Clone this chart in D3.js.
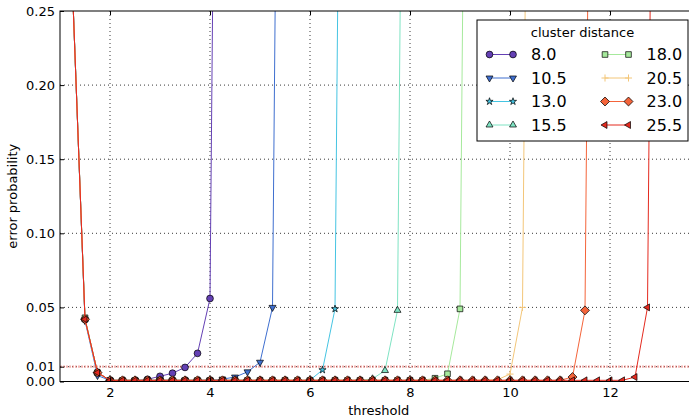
<!DOCTYPE html>
<html>
<head>
<meta charset="utf-8">
<script src="https://cdn.jsdelivr.net/npm/d3@7"></script>
<style>
body { margin: 0; background: #fff; }
svg { display: block; font-family: "DejaVu Sans", sans-serif; }
</style>
</head>
<body>
<svg width="689" height="420"></svg>
<script>
// thresholds on the x axis
var thresholds = [
    1.0, 1.25, 1.5, 1.75,
    2.0, 2.25, 2.5, 2.75,
    3.0, 3.25, 3.5, 3.75,
    4.0, 4.25, 4.5, 4.75,
    5.0, 5.25, 5.5, 5.75,
    6.0, 6.25, 6.5, 6.75,
    7.0, 7.25, 7.5, 7.75,
    8.0, 8.25, 8.5, 8.75,
    9.0, 9.25, 9.5, 9.75,
    10.0, 10.25, 10.5, 10.75,
    11.0, 11.25, 11.5, 11.75,
    12.0, 12.25, 12.5, 12.75,
    13.0
];

var distances = ["8.0", "10.5", "13.0", "15.5", "18.0", "20.5", "23.0", "25.5"];

// error probability per threshold, one list per cluster distance
var series_8_0 = [
    0.62, 0.265, 0.042, 0.006,
    0.0008, 0.0005, 0.0005, 0.0015,
    0.0035, 0.0056, 0.0095, 0.019,
    0.056, 1.0
];
var series_10_5 = [
    0.62, 0.265, 0.041, 0.004,
    0.0008, 0.0008, 0.0008, 0.0008,
    0.0008, 0.0008, 0.0008, 0.0008,
    0.0009, 0.0016, 0.003, 0.0065,
    0.013, 0.050, 1.0
];
var series_13_0 = [
    0.62, 0.265, 0.042, 0.006,
    0.0008, 0.0008, 0.0008, 0.0008,
    0.0008, 0.0008, 0.0008, 0.0008,
    0.0008, 0.0008, 0.0008, 0.0008,
    0.0005, 0.0005, 0.0005, 0.0005,
    0.0009, 0.0078, 0.049, 1.0
];
var series_15_5 = [
    0.62, 0.265, 0.042, 0.006,
    0.0008, 0.0008, 0.0008, 0.0008,
    0.0008, 0.0008, 0.0008, 0.0008,
    0.0008, 0.0008, 0.0008, 0.0008,
    0.0008, 0.0008, 0.0008, 0.0008,
    0.0008, 0.0008, 0.0008, 0.0008,
    0.0008, 0.0018, 0.0074, 0.048,
    1.0
];
var series_18_0 = [
    0.62, 0.265, 0.043, 0.006,
    0.0008, 0.0008, 0.0008, 0.0008,
    0.0008, 0.0008, 0.0008, 0.0008,
    0.0008, 0.0008, 0.0008, 0.0008,
    0.0008, 0.0008, 0.0008, 0.0008,
    0.0008, 0.0008, 0.0008, 0.0008,
    0.0008, 0.0008, 0.0008, 0.0008,
    0.0008, 0.0008, 0.0022, 0.0052,
    0.049, 1.0
];
var series_20_5 = [
    0.62, 0.265, 0.042, 0.006,
    0.0008, 0.0008, 0.0008, 0.0008,
    0.0008, 0.0008, 0.0008, 0.0008,
    0.0008, 0.0008, 0.0008, 0.0008,
    0.0008, 0.0008, 0.0008, 0.0008,
    0.0008, 0.0008, 0.0008, 0.0008,
    0.0008, 0.0008, 0.0008, 0.0008,
    0.0008, 0.0008, 0.0008, 0.0008,
    0.0008, 0.0008, 0.0008, 0.0012,
    0.005, 0.050, 1.0
];
var series_23_0 = [
    0.62, 0.265, 0.042, 0.006,
    0.0008, 0.0008, 0.0008, 0.0008,
    0.0008, 0.0008, 0.0008, 0.0008,
    0.0008, 0.0008, 0.0008, 0.0008,
    0.0008, 0.0008, 0.0008, 0.0008,
    0.0008, 0.0008, 0.0008, 0.0008,
    0.0008, 0.0008, 0.0008, 0.0008,
    0.0008, 0.0008, 0.0008, 0.0008,
    0.0008, 0.0008, 0.0008, 0.0008,
    0.0008, 0.0008, 0.0008, 0.0008,
    0.0008, 0.003, 0.048, 1.0
];
var series_25_5 = [
    0.62, 0.265, 0.042, 0.006,
    0.0008, 0.0008, 0.0008, 0.0008,
    0.0008, 0.0008, 0.0008, 0.0008,
    0.0008, 0.0008, 0.0008, 0.0008,
    0.0008, 0.0008, 0.0008, 0.0008,
    0.0008, 0.0008, 0.0008, 0.0008,
    0.0008, 0.0008, 0.0008, 0.0008,
    0.0008, 0.0008, 0.0008, 0.0008,
    0.0008, 0.0008, 0.0008, 0.0008,
    0.0008, 0.0008, 0.0008, 0.0008,
    0.0008, 0.0008, 0.0008, 0.0008,
    0.0008, 0.0008, 0.003, 0.050,
    1.0
];

var xTicks = [2, 4, 6, 8, 10, 12];
var yTicks = [0.00, 0.01, 0.05, 0.10, 0.15, 0.20, 0.25];
var limit = 0.01;

var allSeries = [series_8_0, series_10_5, series_13_0, series_15_5,
                 series_18_0, series_20_5, series_23_0, series_25_5];

var colors = ["#6440b4", "#3f6fcf", "#45c4e2", "#7fe3c3",
              "#a6e99c", "#f3c679", "#f4643a", "#e42a1f"];

var plusSymbol = {
    draw: function(ctx, size) {
        var r = Math.sqrt(size) / 2;
        ctx.moveTo(-r, 0); ctx.lineTo(r, 0);
        ctx.moveTo(0, -r); ctx.lineTo(0, r);
    }
};
// matplotlib-like markers: o v * ^ s + D <
var markers = [
    {type: d3.symbolCircle, size: 36, rot: 0},
    {type: d3.symbolTriangle, size: 21, rot: 180},
    {type: d3.symbolStar, size: 16, rot: 0},
    {type: d3.symbolTriangle, size: 21, rot: 0},
    {type: d3.symbolSquare, size: 32, rot: 0},
    {type: plusSymbol, size: 50, rot: 0, stroke: true},
    {type: d3.symbolSquare, size: 40, rot: 45},
    {type: d3.symbolTriangle, size: 21, rot: -90}
];

var svg = d3.select("svg"),
    margin = {top: 11, left: 60},
    width = 637.5,
    height = 370.5;

var x = d3.scaleLinear().domain([1, 13.75]).range([0, width]),
    y = d3.scaleLinear().domain([0, 0.25]).range([height, 0]);

svg.append("defs").append("clipPath")
    .attr("id", "clip")
    .append("rect")
    .attr("width", width)
    .attr("height", height);

var g = svg.append("g")
    .attr("transform", "translate(" + margin.left + "," + margin.top + ")");

// grid
var grid = g.append("g").attr("class", "grid");
grid.selectAll(".vgrid")
    .data(xTicks)
    .enter().append("line")
    .attr("x1", function(d) { return x(d); })
    .attr("x2", function(d) { return x(d); })
    .attr("y1", 0)
    .attr("y2", height);
grid.selectAll(".hgrid")
    .data(yTicks.filter(function(d) { return d > 0 && d < 0.25; }))
    .enter().append("line")
    .attr("x1", 0)
    .attr("x2", width)
    .attr("y1", function(d) { return y(d); })
    .attr("y2", function(d) { return y(d); });
grid.selectAll("line")
    .style("stroke", "#222")
    .style("stroke-width", 0.9)
    .style("stroke-dasharray", "1,3");

// threshold line at 0.01
g.append("line")
    .attr("x1", 0)
    .attr("x2", width)
    .attr("y1", y(limit))
    .attr("y2", y(limit))
    .style("stroke", "#ec6a64")
    .style("stroke-opacity", 0.5)
    .style("stroke-width", 2.2)
    .style("stroke-dasharray", "2,1");

var plot = g.append("g").attr("clip-path", "url(#clip)");

function markerPath(m) {
    return d3.symbol().type(m.type).size(m.size)();
}

function styleMarker(sel, i) {
    var m = markers[i];
    if (m.stroke) {
        sel.style("fill", "none")
            .style("stroke", colors[i])
            .style("stroke-width", 1);
    } else {
        sel.style("fill", colors[i])
            .style("stroke", "#000")
            .style("stroke-width", 0.7);
    }
}

for (var i = 0; i < allSeries.length; i++) {
    let values = allSeries[i];
    let pts = values.map(function(v, k) { return [thresholds[k], v]; });
    let line = d3.line()
        .x(function(d) { return x(d[0]); })
        .y(function(d) { return y(d[1]); });

    plot.append("path")
        .datum(pts)
        .style("fill", "none")
        .style("stroke", colors[i])
        .style("stroke-width", 1)
        .attr("d", line);

    plot.selectAll(".m" + i)
        .data(pts)
        .enter().append("path")
        .attr("class", "m" + i)
        .attr("d", markerPath(markers[i]))
        .attr("transform", function(d) {
            return "translate(" + x(d[0]) + "," + y(d[1]) + ") rotate(" + markers[i].rot + ")";
        })
        .call(styleMarker, i);
}

// axes, ticks pointing inward
var xAxis = d3.axisBottom(x).tickValues(xTicks).tickFormat(d3.format("d"))
        .tickSize(-4).tickPadding(6),
    xTop = d3.axisTop(x).tickValues(xTicks).tickFormat("").tickSize(-4),
    yAxis = d3.axisLeft(y).tickValues(yTicks).tickFormat(d3.format(".2f"))
        .tickSize(-4).tickPadding(5),
    yRight = d3.axisRight(y).tickValues(yTicks).tickFormat("").tickSize(-4);

g.append("g").attr("transform", "translate(0," + height + ")").call(xAxis);
g.append("g").call(xTop);
g.append("g").call(yAxis);
g.append("g").attr("transform", "translate(" + width + ",0)").call(yRight);

g.selectAll(".domain").remove();
g.selectAll(".tick line").style("stroke", "#000");
g.selectAll(".tick text")
    .style("font-family", "DejaVu Sans")
    .style("font-size", "13px")
    .style("fill", "#000");

// spines
g.append("rect")
    .attr("width", width)
    .attr("height", height)
    .style("fill", "none")
    .style("stroke", "#000")
    .style("stroke-width", 1);

// axis labels
svg.append("text")
    .attr("x", margin.left + width / 2)
    .attr("y", 414.5)
    .attr("text-anchor", "middle")
    .style("font-size", "13px")
    .text("threshold");

svg.append("text")
    .attr("transform", "translate(17," + (margin.top + height / 2) + ") rotate(-90)")
    .attr("text-anchor", "middle")
    .style("font-size", "13px")
    .text("error probability");

// legend
var legend = svg.append("g").attr("transform", "translate(477,20)");
legend.append("rect")
    .attr("width", 211)
    .attr("height", 121)
    .style("fill", "#fff")
    .style("stroke", "#000")
    .style("stroke-width", 1);
legend.append("text")
    .attr("x", 105.5)
    .attr("y", 16.5)
    .attr("text-anchor", "middle")
    .style("font-size", "13px")
    .text("cluster distance");

distances.forEach(function(label, i) {
    var col = Math.floor(i / 4),
        row = i % 4,
        x0 = 12.5 + col * 115.5,
        yy = 34.5 + row * 23.5;
    var item = legend.append("g");
    item.append("line")
        .attr("x1", x0)
        .attr("x2", x0 + 23.5)
        .attr("y1", yy)
        .attr("y2", yy)
        .style("stroke", colors[i])
        .style("stroke-width", 1);
    [x0, x0 + 23.5].forEach(function(px) {
        item.append("path")
            .attr("d", markerPath(markers[i]))
            .attr("transform", "translate(" + px + "," + yy + ") rotate(" + markers[i].rot + ")")
            .call(styleMarker, i);
    });
    item.append("text")
        .attr("x", x0 + 41.5)
        .attr("y", yy)
        .attr("dy", "0.36em")
        .style("font-size", "16px")
        .text(label);
});
</script>
</body>
</html>
